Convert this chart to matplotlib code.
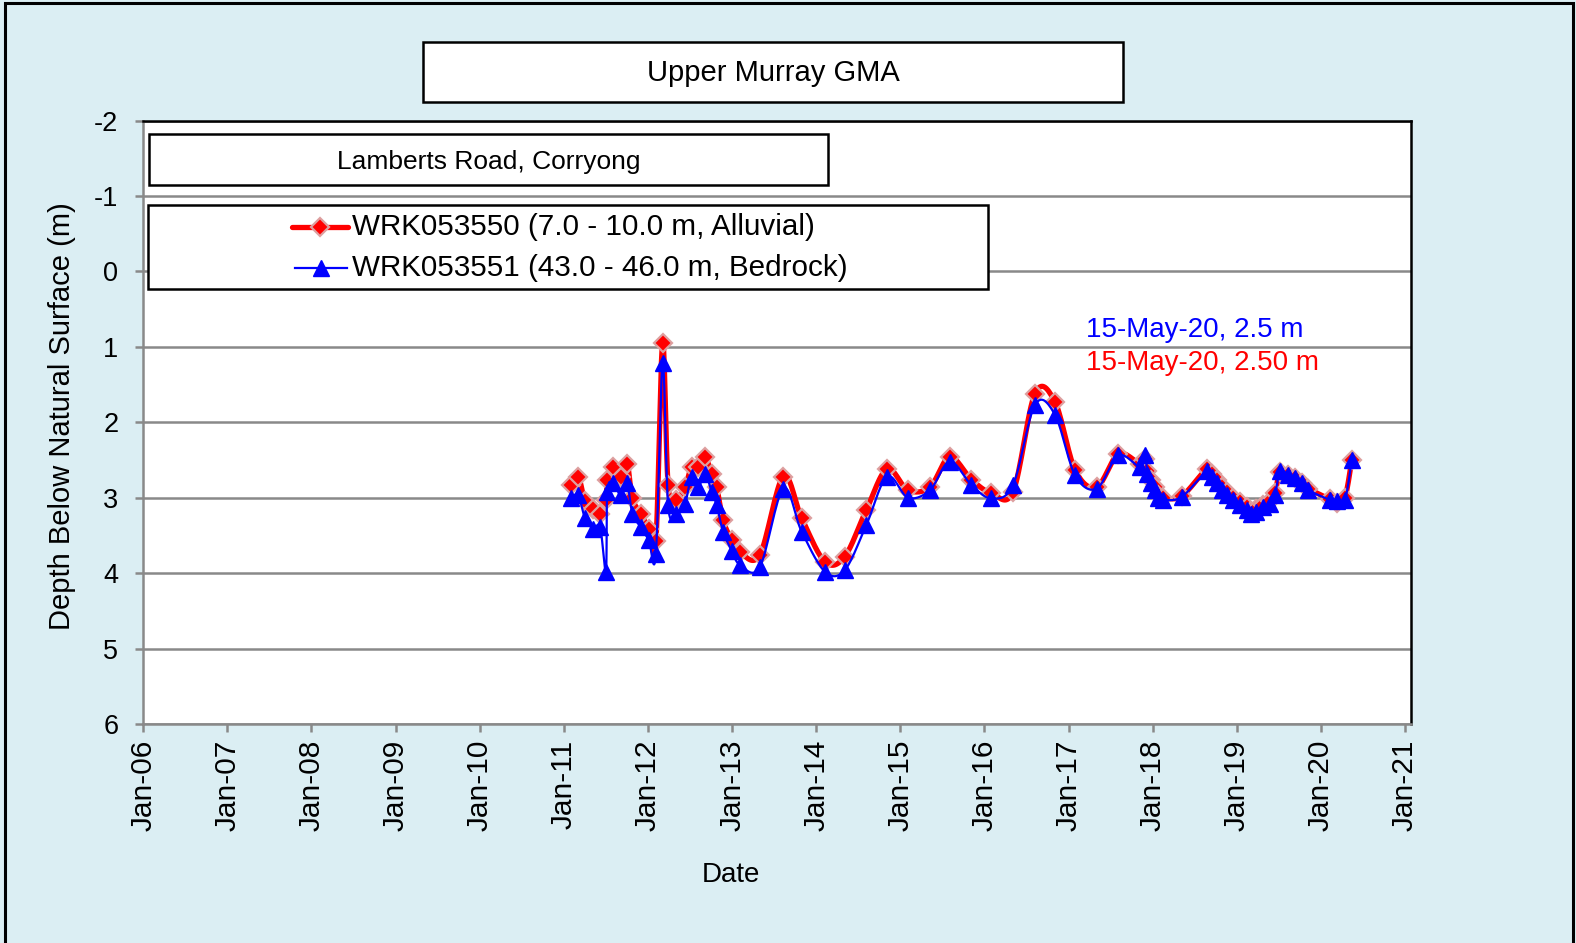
import numpy as np
import matplotlib
matplotlib.use("Agg")
import matplotlib.pyplot as plt
import matplotlib.dates as mdates
from matplotlib.patches import Rectangle
from matplotlib.lines import Line2D

plt.rcParams['font.family'] = ['Liberation Sans', 'DejaVu Sans']
plt.rcParams['axes.unicode_minus'] = False

# sample dates shared by both bores
dates = [
    '2011-01-31', '2011-03-05', '2011-04-03', '2011-05-08', '2011-06-08',
    '2011-07-03', '2011-07-09', '2011-08-04', '2011-09-06', '2011-10-03',
    '2011-10-26', '2011-12-01', '2012-01-05', '2012-02-05', '2012-03-05',
    '2012-03-29', '2012-05-02', '2012-06-10', '2012-07-09', '2012-08-07',
    '2012-09-05', '2012-10-04', '2012-10-26', '2012-11-23', '2012-12-30',
    '2013-02-04', '2013-05-01', '2013-08-11', '2013-10-30', '2014-02-08',
    '2014-05-05', '2014-08-07', '2014-11-05', '2015-02-04', '2015-05-10',
    '2015-08-04', '2015-11-06', '2016-02-01', '2016-05-05', '2016-08-08',
    '2016-11-03', '2017-01-29', '2017-05-03', '2017-08-05', '2017-11-07',
    '2017-11-29', '2017-12-09', '2017-12-24', '2018-01-11', '2018-01-25',
    '2018-02-16', '2018-05-07', '2018-08-23', '2018-09-14', '2018-10-06',
    '2018-10-28', '2018-11-18', '2018-12-17', '2019-01-15', '2019-02-13',
    '2019-03-06', '2019-03-28', '2019-04-26', '2019-05-25', '2019-06-16',
    '2019-07-08', '2019-08-13', '2019-09-11', '2019-10-10', '2019-11-08',
    '2020-02-10', '2020-03-10', '2020-04-15', '2020-05-15']

# WRK053550 (alluvial) depth below surface, m
alluvial = [
    2.83, 2.72, 3.05, 3.15, 3.21, 3.03, 2.77, 2.59, 2.72, 2.55,
    3.01, 3.21, 3.41, 3.58, 0.95, 2.83, 3.03, 2.86, 2.59, 2.59,
    2.46, 2.68, 2.86, 3.30, 3.56, 3.72, 3.76, 2.72, 3.27, 3.85,
    3.78, 3.16, 2.62, 2.90, 2.86, 2.46, 2.76, 2.94, 2.92, 1.62,
    1.73, 2.63, 2.86, 2.42, 2.55, 2.48, 2.64, 2.76, 2.86, 2.97,
    3.00, 2.98, 2.62, 2.68, 2.77, 2.86, 2.93, 3.00, 3.06, 3.12,
    3.17, 3.15, 3.09, 3.04, 2.94, 2.66, 2.70, 2.74, 2.80, 2.88,
    3.02, 3.07, 3.00, 2.50]

# WRK053551 (bedrock) depth below surface, m
bedrock = [
    3.00, 2.97, 3.27, 3.41, 3.39, 3.98, 2.92, 2.81, 2.97, 2.81,
    3.21, 3.39, 3.56, 3.74, 1.22, 3.10, 3.21, 3.08, 2.72, 2.86,
    2.68, 2.92, 3.10, 3.45, 3.70, 3.89, 3.92, 2.88, 3.45, 3.98,
    3.96, 3.36, 2.72, 3.00, 2.90, 2.52, 2.83, 3.01, 2.83, 1.77,
    1.90, 2.70, 2.88, 2.44, 2.59, 2.44, 2.68, 2.80, 2.90, 3.01,
    3.03, 2.99, 2.65, 2.72, 2.81, 2.90, 2.97, 3.03, 3.10, 3.16,
    3.21, 3.19, 3.12, 3.08, 2.97, 2.65, 2.70, 2.74, 2.81, 2.90,
    3.03, 3.05, 3.03, 2.50]

W, H = 1576, 943
BG = '#DBEEF3'


def fx(x):
    return x / W


def fy(y):
    return 1 - y / H


def smooth(x, y, n=16):
    # excel style smoothed line (catmull-rom through the points)
    x = np.asarray(x, float)
    y = np.asarray(y, float)
    px = np.concatenate([[x[0]], x, [x[-1]]])
    py = np.concatenate([[y[0]], y, [y[-1]]])
    t = np.linspace(0, 1, n, endpoint=False)
    XX, YY = [], []
    for i in range(1, len(px) - 2):
        p0, p1, p2, p3 = px[i-1], px[i], px[i+1], px[i+2]
        q0, q1, q2, q3 = py[i-1], py[i], py[i+1], py[i+2]
        c1x, c2x = p1 + (p2 - p0) / 6, p2 - (p3 - p1) / 6
        c1y, c2y = q1 + (q2 - q0) / 6, q2 - (q3 - q1) / 6
        b0, b1, b2, b3 = (1-t)**3, 3*(1-t)**2*t, 3*(1-t)*t**2, t**3
        XX.append(b0*p1 + b1*c1x + b2*c2x + b3*p2)
        YY.append(b0*q1 + b1*c1y + b2*c2y + b3*q2)
    XX.append([x[-1]])
    YY.append([y[-1]])
    return np.concatenate(XX), np.concatenate(YY)


d = mdates.datestr2num(dates)

fig = plt.figure(figsize=(W/100, H/100), dpi=100, facecolor=BG)
ax = fig.add_axes([fx(143.3), fy(724), fx(1411) - fx(143.3), fy(120.6) - fy(724)])
ax.set_facecolor('white')

red_mk = dict(marker='D', markersize=9.5, markerfacecolor='#FF0000',
              markeredgecolor='#DDA0A0', markeredgewidth=1.6)
blue_mk = dict(marker='^', markersize=11, markerfacecolor='#0000FF',
               markeredgecolor='#0000FF', markeredgewidth=1)

sx, sy = smooth(d, alluvial)
ax.plot(sx, sy, color='#FF0000', lw=3.8, zorder=3, solid_capstyle='round')
ax.plot(d, alluvial, linestyle='none', zorder=4, **red_mk)
sx, sy = smooth(d, bedrock)
ax.plot(sx, sy, color='#0000FF', lw=1.6, zorder=5)
ax.plot(d, bedrock, linestyle='none', zorder=6, **blue_mk)

ax.set_ylim(6, -2)
ax.set_yticks(np.arange(-2, 7, 1))
ax.set_xlim(mdates.datestr2num('2006-01-01'), mdates.datestr2num('2021-01-27'))
ax.xaxis.set_major_locator(mdates.YearLocator(1, month=1, day=1))
ax.xaxis.set_major_formatter(mdates.DateFormatter('%b-%y'))
ax.grid(axis='y', color='#898989', lw=1.8, zorder=1)
ax.set_axisbelow(True)

for s in ['left', 'bottom']:
    ax.spines[s].set_color('#898989')
    ax.spines[s].set_linewidth(1.8)
for s in ['top', 'right']:
    ax.spines[s].set_color('black')
    ax.spines[s].set_linewidth(1.8)
ax.tick_params(axis='both', color='#898989', width=1.8, length=6)
ax.tick_params(axis='x', labelsize=21.5, labelrotation=90, pad=5)
ax.tick_params(axis='y', labelsize=19.5, pad=12)

fig.text(fx(730.7), fy(874.5), 'Date', fontsize=20, ha='center', va='center')
fig.text(fx(62.3), fy(416), 'Depth Below Natural Surface (m)', fontsize=21,
         rotation=90, ha='center', va='center')

# title and subtitle boxes
fig.add_artist(Rectangle((fx(423), fy(101.7)), fx(1123) - fx(423), fy(42.3) - fy(101.7),
                         transform=fig.transFigure, facecolor='white', edgecolor='black', lw=1.8))
fig.text(fx(773), fy(73), 'Upper Murray GMA', fontsize=21, ha='center', va='center')
fig.add_artist(Rectangle((fx(149.3), fy(185)), fx(828) - fx(149.3), fy(134.3) - fy(185),
                         transform=fig.transFigure, facecolor='white', edgecolor='black', lw=1.8, zorder=10))
fig.text(fx(488.6), fy(162.5), 'Lamberts Road, Corryong', fontsize=19, ha='center', va='center', zorder=11)

# legend box
fig.add_artist(Rectangle((fx(148.3), fy(289.3)), fx(988) - fx(148.3), fy(205) - fy(289.3),
                         transform=fig.transFigure, facecolor='white', edgecolor='black', lw=1.8, zorder=10))
fig.add_artist(Line2D([fx(292), fx(348)], [fy(226.7), fy(226.7)], transform=fig.transFigure,
                      lw=3.8, color='#FF0000', solid_capstyle='round', zorder=11))
fig.add_artist(Line2D([fx(320)], [fy(226.7)], transform=fig.transFigure, linestyle='none',
                      zorder=12, **red_mk))
fig.add_artist(Line2D([fx(295), fx(347)], [fy(268.3), fy(268.3)], transform=fig.transFigure,
                      lw=1.6, zorder=11, color='#0000FF'))
fig.add_artist(Line2D([fx(321)], [fy(268.3)], transform=fig.transFigure, linestyle='none',
                      zorder=12, **blue_mk))
fig.text(fx(352), fy(226.7), 'WRK053550 (7.0 - 10.0 m, Alluvial)', fontsize=21.3,
         ha='left', va='center', zorder=12)
fig.text(fx(352), fy(268.3), 'WRK053551 (43.0 - 46.0 m, Bedrock)', fontsize=21.3,
         ha='left', va='center', zorder=12)

# latest readings
fig.text(fx(1086), fy(337.3), '15-May-20, 2.5 m', fontsize=20, color='#0000FF',
         ha='left', va='baseline')
fig.text(fx(1086), fy(370), '15-May-20, 2.50 m', fontsize=20, color='#FF0000',
         ha='left', va='baseline')

# outer chart border
fig.add_artist(Rectangle((fx(5), fy(960)), fx(1572.7) - fx(5), fy(2.7) - fy(960),
                         transform=fig.transFigure, facecolor='none', edgecolor='black', lw=2.2))

fig.savefig('out.png', dpi=100, facecolor=BG)
